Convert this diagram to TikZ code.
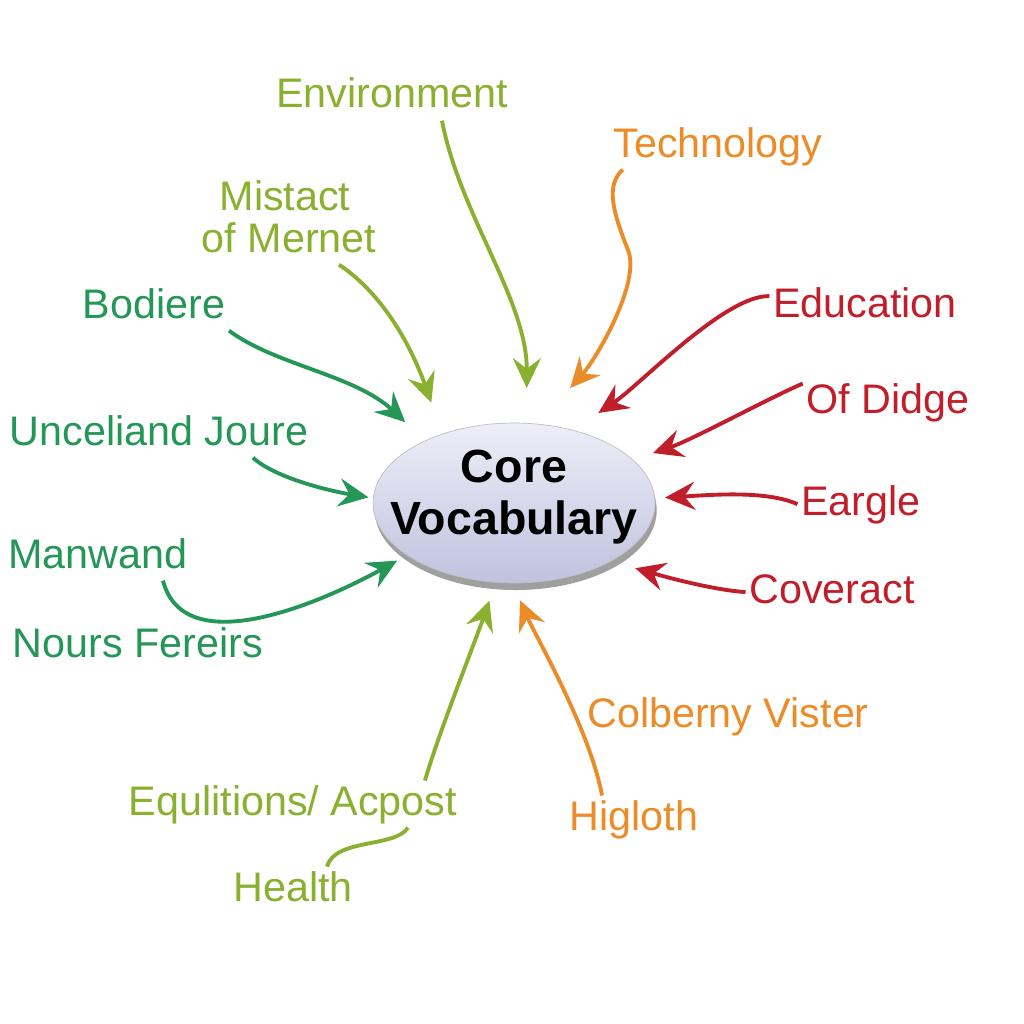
\documentclass[tikz,border=0pt]{standalone}
\usepackage{fontspec}
\setmainfont{Liberation Sans}
\usetikzlibrary{arrows.meta,shapes.geometric,shadows}

\definecolor{cLime}{RGB}{138,176,48}
\definecolor{cOrange}{RGB}{236,140,40}
\definecolor{cGreen}{RGB}{36,150,86}
\definecolor{cRed}{RGB}{192,30,42}
\definecolor{cCoreTop}{RGB}{238,238,248}
\definecolor{cCoreBot}{RGB}{192,194,222}

\tikzset{
  lbl/.style={font=\fontsize{23.5}{28}\selectfont, inner sep=2pt,
    text height=17.4pt, text depth=5pt, anchor=base},
  arr/.style={line width=2.2pt, -{Stealth[length=17pt,width=16pt,inset=6pt]}},
}

\begin{document}
\begin{tikzpicture}[x=0.02cm,y=-0.02cm]
	   \useasboundingbox[fill=white] (0,0) rectangle (1024,1024);
	   % centre
	   \node (core) at (514,503)
	     [ellipse,minimum width=5.64cm,minimum height=3.2cm,inner sep=0pt,
	      draw=black!25,top color=cCoreTop,bottom color=cCoreBot,
	      drop shadow={shadow xshift=1pt,shadow yshift=-4pt,opacity=0.5,fill=black!75}] {};
	   \node (corelbl) at ([yshift=0.12cm]core.center)
	     [align=center,font=\bfseries\fontsize{26.5}{29.5}\selectfont] {Core\\Vocabulary};
	   % labels
	   \foreach \nm/\x/\y/\col/\txt in {
	     env/392/108/cLime/Environment,
	     tech/718/157/cOrange/Technology,
	     mist/285/210/cLime/Mistact,
	     mern/289/252/cLime/of Mernet,
	     bod/154/318/cGreen/Bodiere,
	     unc/159/445/cGreen/Unceliand Joure,
	     man/98/568/cGreen/Manwand,
	     nours/138/657/cGreen/Nours Fereirs,
	     edu/865/317/cRed/Education,
	     didge/888/413/cRed/Of Didge,
	     earg/861/515/cRed/Eargle,
	     cov/832/603/cRed/Coveract,
	     colb/728/727/cOrange/Colberny Vister,
	     equ/293/815/cLime/{Equlitions/ Acpost},
	     hig/634/830/cOrange/Higloth,
	     hea/293/901/cLime/Health} {
	     \node (\nm) at (\x,\y) [lbl,text=\col] {\txt};
	   }
	   % arrows into the centre
	   \draw [arr,cLime,shorten >=0.7cm]
	     ([xshift=1cm]env.south) .. controls (460,215) and (527,300) .. (core.81);
	   \draw [arr,cOrange,shorten >=0.96cm]
	     ([xshift=0.26cm]tech.south west) .. controls (606,185) and (612,210) .. (628,250)
	     .. controls (641,282) and (597,358) .. (core.73);
	   \draw [arr,cLime,shorten >=0.66cm]
	     ([xshift=1cm]mern.south) .. controls (392,300) and (418,365) .. (core.136);
	   \draw [arr,cGreen,shorten >=0.54cm]
	     (bod.south east) .. controls (275,365) and (355,375) .. (core.145);
	   \draw [arr,cGreen,shorten >=0.09cm]
	     ([xshift=1.88cm]unc.south) .. controls (275,478) and (330,491) .. (core.178);
	   \draw [arr,cGreen,shorten >=0.22cm]
	     ([xshift=1.3cm]man.south) .. controls (185,665) and (330,598) .. (core.206);
	   \draw [arr,cRed,shorten >=0.61cm]
	     ([yshift=0.2cm]edu.west) .. controls (725,295) and (640,385) .. (core.51);
	   \draw [arr,cRed,shorten >=0.42cm]
	     ([yshift=-0.1cm]didge.north west) .. controls (765,400) and (692,440) .. (core.20);
	   \draw [arr,cRed,shorten >=0.2cm]
	     (earg.west) .. controls (765,490) and (710,495) .. (core.2);
	   \draw [arr,cRed,shorten >=0.5cm]
	     (cov.west) .. controls (715,590) and (673,579) .. (core.329);
	   \draw [arr,cLime,shorten >=0.38cm]
	     ([xshift=2.64cm]equ.north) .. controls (438,735) and (475,642) .. (core.257);
	   \draw [arr,cOrange,shorten >=0.37cm]
	     ([xshift=-0.64cm]hig.north) .. controls (590,730) and (536,637) .. (core.269);
	   % link without head
	   \draw [line width=2.2pt,cLime]
	     ([xshift=2.3cm]equ.south) .. controls (395,848) and (335,838) .. ([xshift=0.68cm]hea.north);
\end{tikzpicture}
\end{document}
